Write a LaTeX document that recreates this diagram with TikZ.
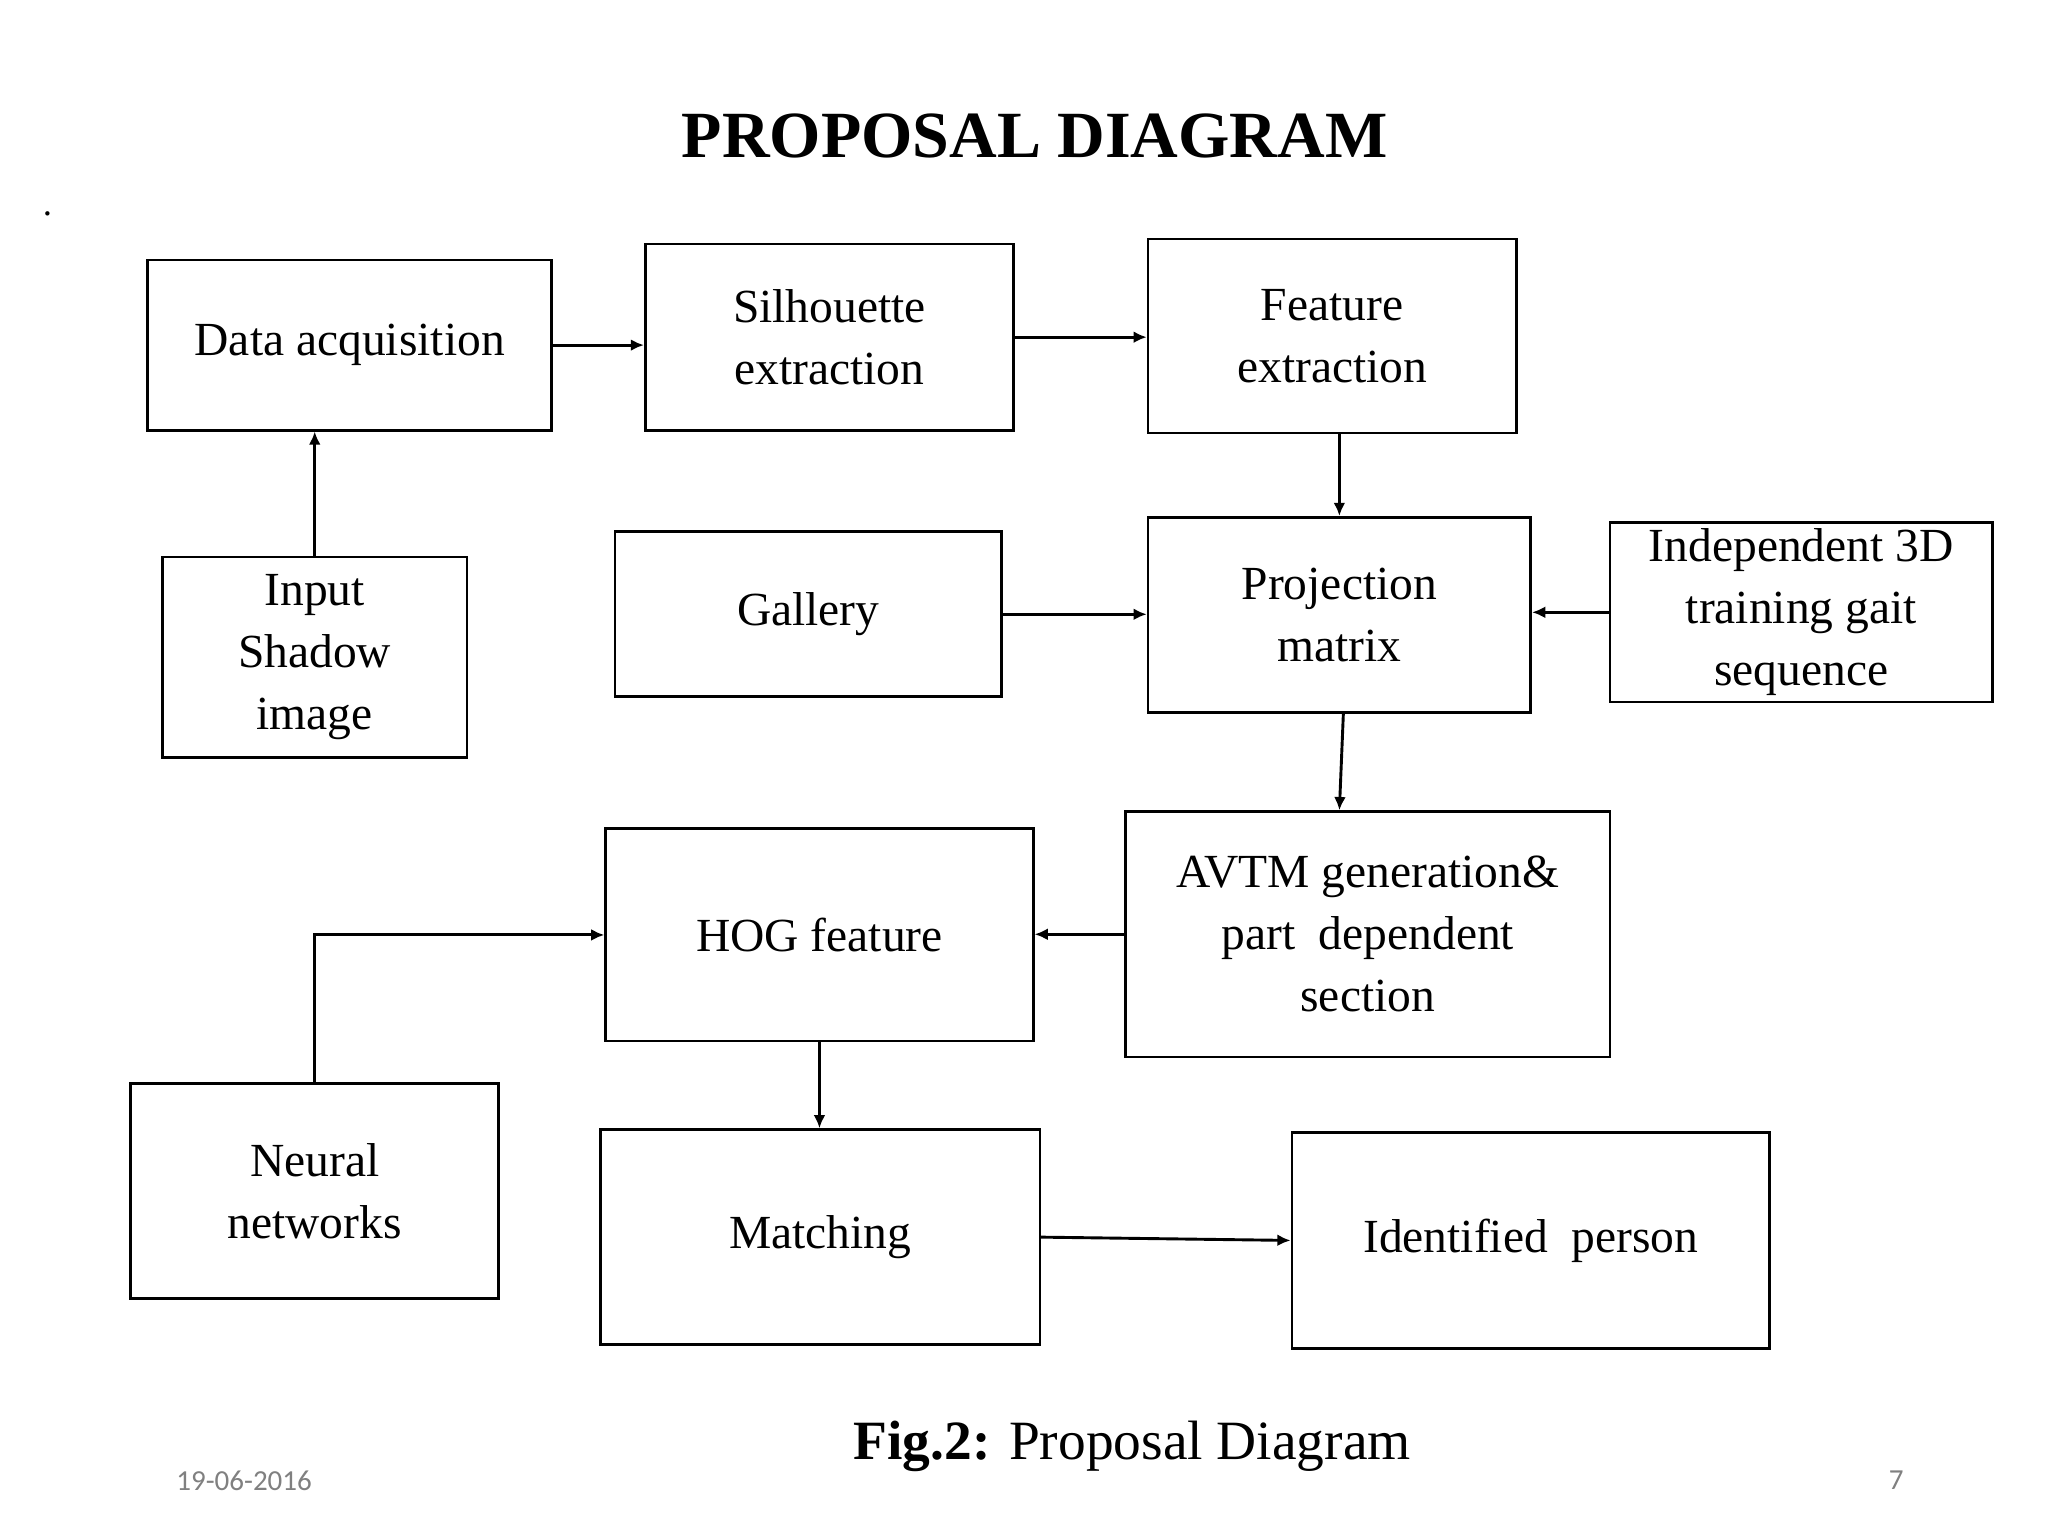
\documentclass[tikz,border=0pt]{standalone}
\usepackage{fontspec}
\setmainfont{Liberation Serif}
\newfontfamily\datefont{Carlito}
\usetikzlibrary{arrows.meta}
\begin{document}
\begin{tikzpicture}[x=0.5pt,y=-0.5pt,
  bx/.style={draw,line width=1pt,align=center,inner sep=0pt,font=\fontsize{18}{23.5}\selectfont},
  ar/.style={line width=1.1pt,-{Latex[length=5pt,width=4.5pt]}}]
\useasboundingbox (0,0) rectangle (1552,1164);
\node[font=\bfseries\fontsize{25}{30}\selectfont] (title) at (784,103) {PROPOSAL DIAGRAM};
\node[font=\fontsize{14}{14}\selectfont] (dot) at (36,162) {.};
\node[bx,minimum width=153pt,minimum height=64.5pt] (da) at (265,261.5) {Data acquisition};
\node[bx,minimum width=139.5pt,minimum height=70.5pt] (se) at (628.5,255.5) {Silhouette\\extraction};
\node[bx,minimum width=139.5pt,minimum height=73.5pt] (fe) at (1009.5,254.5) {Feature\\extraction};
\node[bx,minimum width=115.5pt,minimum height=76pt] (is) at (238.5,498) {Input\\Shadow\\image};
\node[bx,minimum width=146.5pt,minimum height=62.5pt] (ga) at (612.5,465.5) {Gallery};
\node[bx,minimum width=145pt,minimum height=74pt] (pm) at (1015,466) {Projection\\matrix};
\node[bx,minimum width=145pt,minimum height=68pt] (id) at (1365,464) {Independent 3D\\training gait\\sequence};
\node[bx,minimum width=183.5pt,minimum height=93pt] (av) at (1036.5,708) {AVTM generation\&\\part\ \ dependent\\section};
\node[bx,minimum width=162pt,minimum height=80.5pt] (hog) at (621,708.5) {HOG feature};
\node[bx,minimum width=139.5pt,minimum height=81.5pt] (nn) at (238.5,902.5) {Neural\\networks};
\node[bx,minimum width=166.5pt,minimum height=81.5pt] (ma) at (621.5,937.5) {Matching};
\node[bx,minimum width=181pt,minimum height=82pt] (ip) at (1160,940) {Identified\ \ person};
\draw[ar] (da.east) -- (se.west|-da.east);
\draw[ar] (se.east) -- (fe.west|-se.east);
\draw[ar] (fe.south-|pm.south) -- (pm.north);
\draw[ar] (is.north) -- (da.south-|is.north);
\draw[ar] (ga.east) -- (pm.west|-ga.east);
\draw[ar] (id.west) -- (pm.east|-id.west);
\draw[ar] ([xshift=1.5pt]pm.south) -- (av.north-|pm.south);
\draw[ar] (av.west) -- (hog.east|-av.west);
\draw[ar] (nn.north) -- (nn.north|-hog.west) -- (hog.west);
\draw[ar] (hog.south) -- (ma.north-|hog.south);
\draw[ar] (ma.east) -- (ip.west);
\node[font=\fontsize{21}{24}\selectfont] (cap) at (858,1096) {\textbf{Fig.2:} Proposal Diagram};
\node[font=\datefont\fontsize{11}{12}\selectfont,text=gray] (date) at (185,1122) {19-06-2016};
\node[font=\datefont\fontsize{11}{12}\selectfont,text=gray] (pg) at (1437,1122) {7};
\end{tikzpicture}
\end{document}
